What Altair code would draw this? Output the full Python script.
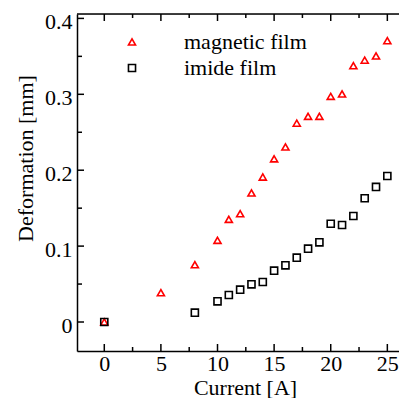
import altair as alt
import pandas as pd

current = [0, 5, 8, 10, 11, 12, 13, 14, 15, 16, 17, 18, 19, 20, 21, 22, 23, 24, 25]
magnetic = [0.0, 0.0386, 0.0755, 0.1076, 0.1353, 0.1427, 0.170, 0.191, 0.215, 0.2306,
            0.262, 0.271, 0.271, 0.2973, 0.3004, 0.3377, 0.345, 0.3505, 0.3706]
current_imide = [0, 8, 10, 11, 12, 13, 14, 15, 16, 17, 18, 19, 20, 21, 22, 23, 24, 25]
imide = [0.0, 0.0123, 0.0272, 0.0356, 0.0426, 0.0496, 0.0527, 0.0676, 0.0747, 0.0848,
         0.0966, 0.105, 0.1295, 0.1278, 0.1397, 0.163, 0.178, 0.1924]
series_names = ["magnetic film", "imide film"]

x_major = [0, 5, 10, 15, 20, 25]
x_minor = [2.5, 7.5, 12.5, 17.5, 22.5]
y_major = [0, 0.1, 0.2, 0.3, 0.4]
y_minor = [0.05, 0.15, 0.25, 0.35]

W, H = 322, 337
FONT = "Liberation Serif"
xdom = [-2.41, 26.03]
ydom = [-0.0382, 0.4058]

df = pd.DataFrame(
    [{"x": a, "y": b, "s": series_names[0]} for a, b in zip(current, magnetic)]
    + [{"x": a, "y": b, "s": series_names[1]} for a, b in zip(current_imide, imide)]
)

xs = alt.Scale(domain=xdom, nice=False, zero=False)
ys = alt.Scale(domain=ydom, nice=False, zero=False)

xaxis = alt.Axis(
    values=x_major, title="Current [A]", ticks=False, grid=False, format="~g",
    domainColor="black", domainWidth=1.5, labelFont=FONT, labelFontSize=22,
    labelColor="black", labelPadding=2, titleFont=FONT, titleFontSize=22,
    titleFontWeight="normal", titleColor="black", titleX=168, titleY=43,
    titleBaseline="alphabetic", titleAnchor="start", titleAlign="center")
yaxis = alt.Axis(
    values=y_major, title="Deformation [mm]", ticks=False, grid=False, format="~g",
    domainColor="black", domainWidth=1.5, labelFont=FONT, labelFontSize=22,
    labelColor="black", labelPadding=5, labelOffset=3, titleFont=FONT, titleFontSize=22,
    titleFontWeight="normal", titleColor="black", titleX=-45, titleY=144,
    titleAngle=270, titleBaseline="alphabetic", titleAlign="center",
    titleAnchor="start")

leg = alt.Legend(title=None, orient="none", legendX=44, legendY=17,
                 labelFont=FONT, labelFontSize=22, labelColor="black",
                 labelOffset=41, symbolSize=50, symbolStrokeWidth=1.6,
                 rowPadding=4, padding=0)

points = alt.Chart(df).mark_point(filled=False, size=50, strokeWidth=1.6, opacity=1).encode(
    x=alt.X("x:Q", scale=xs, axis=xaxis),
    y=alt.Y("y:Q", scale=ys, axis=yaxis),
    shape=alt.Shape("s:N", scale=alt.Scale(domain=series_names, range=["triangle-up", "square"]),
                    legend=leg),
    color=alt.Color("s:N", scale=alt.Scale(domain=series_names, range=["#ff0000", "#000000"]),
                    legend=leg),
)

def xticks(vals, length):
    d = pd.DataFrame({"x": vals})
    bottom = alt.Chart(d).mark_rule(color="black", strokeWidth=1.5).encode(
        x=alt.X("x:Q", scale=xs, axis=xaxis), y=alt.value(H), y2=alt.value(H - length))
    top = alt.Chart(d).mark_rule(color="black", strokeWidth=1.5).encode(
        x=alt.X("x:Q", scale=xs, axis=xaxis), y=alt.value(0), y2=alt.value(length))
    return [bottom, top]

def yticks(vals, length):
    d = pd.DataFrame({"y": vals})
    return [alt.Chart(d).mark_rule(color="black", strokeWidth=1.5).encode(
        y=alt.Y("y:Q", scale=ys, axis=yaxis), x=alt.value(0), x2=alt.value(length))]

top_line = alt.Chart(pd.DataFrame({"a": [0]})).mark_rule(color="black", strokeWidth=1.5).encode(
    x=alt.value(0), x2=alt.value(W), y=alt.value(0))

layers = [points] + xticks(x_major, 7) + xticks(x_minor, 4) + yticks(y_major, 7) + yticks(y_minor, 5) + [top_line]

chart = alt.layer(*layers).properties(
    width=W, height=H,
    autosize=alt.AutoSizeParams(type="none"),
    padding={"left": 69, "top": 6, "right": 0, "bottom": 47},
).configure_view(stroke=None).configure(
    background="white", font=FONT
).configure_axis(labelFont=FONT, titleFont=FONT).configure_legend(labelFont=FONT)

chart.save("out.html", embed_options={"renderer": "svg", "actions": False})
